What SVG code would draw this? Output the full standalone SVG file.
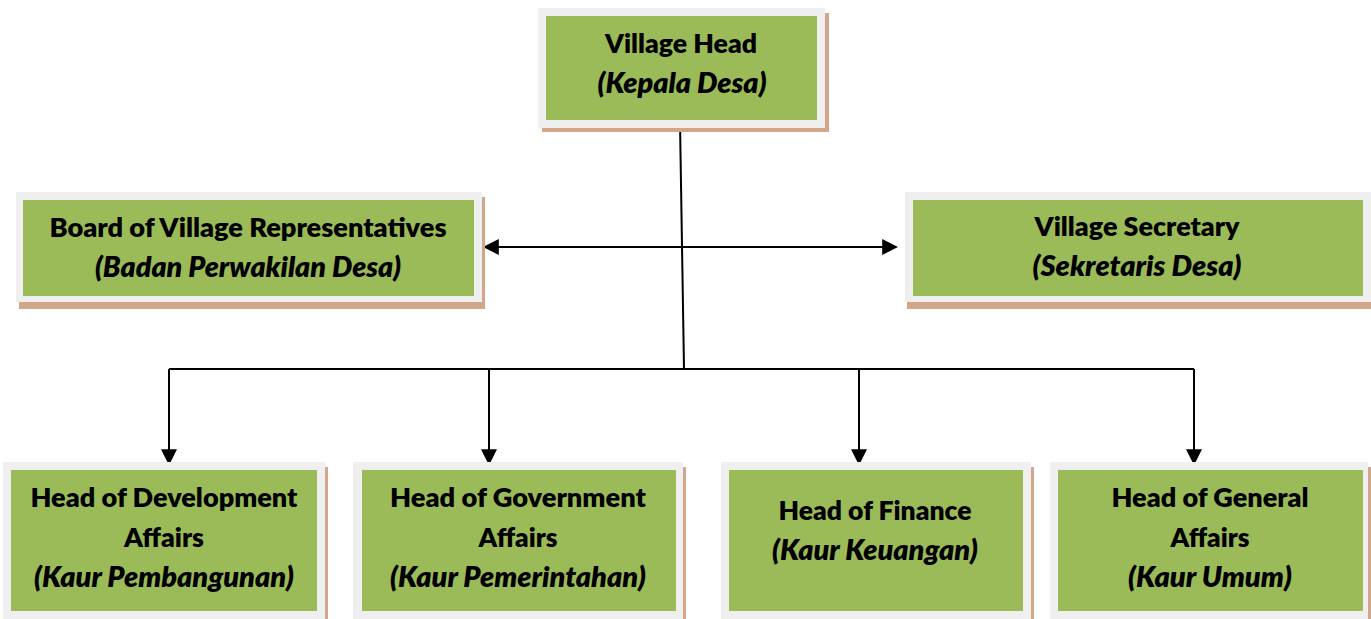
<svg xmlns="http://www.w3.org/2000/svg" width="1371" height="619" viewBox="0 0 1371 619">
  <style>
    .shadow { fill: #d2a688; }
    .frame { fill: #efefef; }
    .fill { fill: #9bbb59; }
    .t { font-family: Lato, "Open Sans", "Liberation Sans", sans-serif; font-weight: 800; font-size: 27px; fill: #000; text-anchor: middle; }
    .i { font-style: italic; font-size: 28px; }
    .link { stroke: #000; stroke-width: 2; fill: none; }
  </style>
  <defs>
    <marker id="arrow" markerUnits="userSpaceOnUse" markerWidth="16" markerHeight="16" viewBox="0 0 15 15" refX="12" refY="7.5" orient="auto-start-reverse">
      <path d="M0,0 L15,7.5 L0,15 z" fill="#000"/>
    </marker>
  </defs>
  <rect width="1371" height="619" fill="#fff"/>

  <!-- connectors -->
  <g id="connectors">
    <line class="link" x1="680" y1="122" x2="684" y2="369" stroke-width="1.6"/>
    <line class="link" x1="486" y1="247" x2="895" y2="247" marker-start="url(#arrow)" marker-end="url(#arrow)"/>
    <line class="link" x1="169" y1="369" x2="1194" y2="369"/>
    <line class="link" x1="169" y1="369" x2="169" y2="462" marker-end="url(#arrow)"/>
    <line class="link" x1="489" y1="369" x2="489" y2="462" marker-end="url(#arrow)"/>
    <line class="link" x1="859" y1="369" x2="859" y2="462" marker-end="url(#arrow)"/>
    <line class="link" x1="1194" y1="369" x2="1194" y2="462" marker-end="url(#arrow)"/>
  </g>

  <g id="village-head">
    <rect class="shadow" x="542" y="13" width="287" height="119"/>
    <rect class="frame" x="538" y="8" width="287" height="120"/>
    <rect class="fill" x="546" y="16" width="271" height="104"/>
    <text class="t" x="681" y="53" textLength="152" lengthAdjust="spacingAndGlyphs">Village Head</text>
    <text class="t i" x="682" y="93" textLength="169" lengthAdjust="spacingAndGlyphs">(Kepala Desa)</text>
  </g>

  <g id="board">
    <rect class="shadow" x="19" y="197" width="466" height="112"/>
    <rect class="frame" x="16" y="192" width="466" height="110"/>
    <rect class="fill" x="23" y="200" width="451" height="96"/>
    <text class="t" x="248" y="237" textLength="397" lengthAdjust="spacingAndGlyphs">Board of Village Representatives</text>
    <text class="t i" x="248" y="277" textLength="306" lengthAdjust="spacingAndGlyphs">(Badan Perwakilan Desa)</text>
  </g>

  <g id="secretary">
    <rect class="shadow" x="907" y="197" width="470" height="112"/>
    <rect class="frame" x="905" y="192" width="470" height="110"/>
    <rect class="fill" x="913" y="200" width="450" height="96"/>
    <text class="t" x="1137" y="236" textLength="205" lengthAdjust="spacingAndGlyphs">Village Secretary</text>
    <text class="t i" x="1137" y="276" textLength="209" lengthAdjust="spacingAndGlyphs">(Sekretaris Desa)</text>
  </g>

  <g id="development">
    <rect class="shadow" x="6" y="467" width="322" height="160"/>
    <rect class="frame" x="3" y="462" width="322" height="160"/>
    <rect class="fill" x="11" y="470" width="306" height="141"/>
    <text class="t" x="164" y="507" textLength="267" lengthAdjust="spacingAndGlyphs">Head of Development</text>
    <text class="t" x="164" y="547" textLength="80" lengthAdjust="spacingAndGlyphs">Affairs</text>
    <text class="t i" x="164" y="587" textLength="260" lengthAdjust="spacingAndGlyphs">(Kaur Pembangunan)</text>
  </g>

  <g id="government">
    <rect class="shadow" x="356" y="467" width="330" height="160"/>
    <rect class="frame" x="353" y="462" width="330" height="160"/>
    <rect class="fill" x="362" y="470" width="314" height="141"/>
    <text class="t" x="518" y="507" textLength="256" lengthAdjust="spacingAndGlyphs">Head of Government</text>
    <text class="t" x="518" y="547" textLength="79" lengthAdjust="spacingAndGlyphs">Affairs</text>
    <text class="t i" x="518" y="587" textLength="256" lengthAdjust="spacingAndGlyphs">(Kaur Pemerintahan)</text>
  </g>

  <g id="finance">
    <rect class="shadow" x="724" y="467" width="310" height="160"/>
    <rect class="frame" x="721" y="462" width="310" height="160"/>
    <rect class="fill" x="729" y="470" width="294" height="141"/>
    <text class="t" x="875" y="520" textLength="193" lengthAdjust="spacingAndGlyphs">Head of Finance</text>
    <text class="t i" x="875" y="560" textLength="206" lengthAdjust="spacingAndGlyphs">(Kaur Keuangan)</text>
  </g>

  <g id="general">
    <rect class="shadow" x="1053" y="467" width="320" height="160"/>
    <rect class="frame" x="1050" y="462" width="318" height="160"/>
    <rect class="fill" x="1058" y="470" width="305" height="141"/>
    <text class="t" x="1210" y="507" textLength="197" lengthAdjust="spacingAndGlyphs">Head of General</text>
    <text class="t" x="1210" y="547" textLength="79" lengthAdjust="spacingAndGlyphs">Affairs</text>
    <text class="t i" x="1210" y="587" textLength="164" lengthAdjust="spacingAndGlyphs">(Kaur Umum)</text>
  </g>
</svg>
